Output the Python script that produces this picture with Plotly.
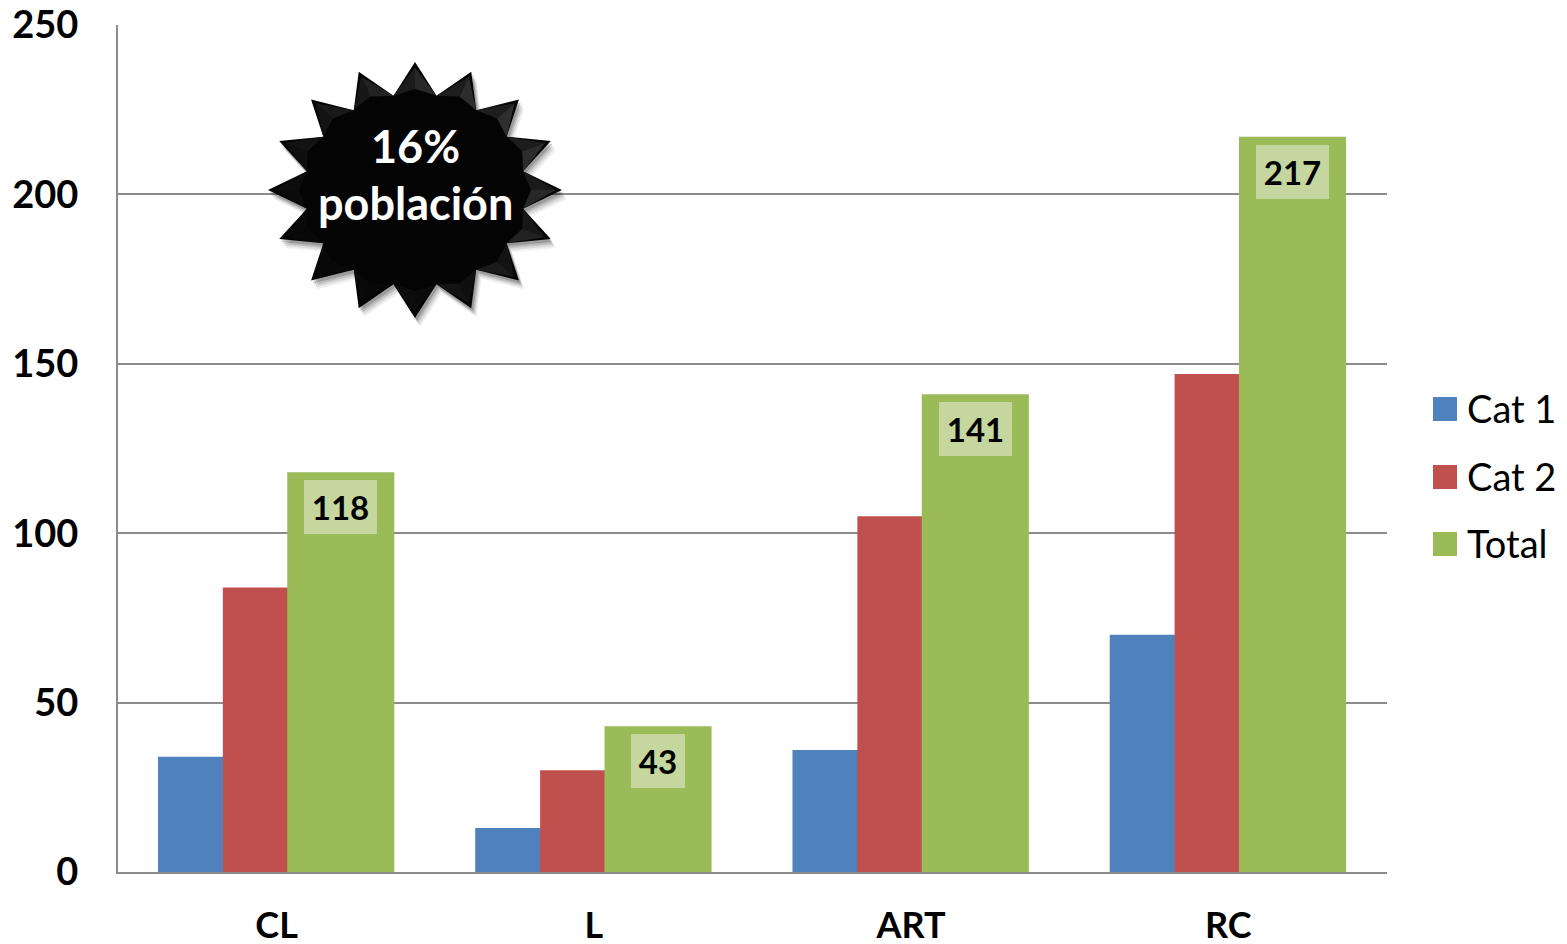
import math
import plotly.graph_objects as go

categories = ["CL", "L", "ART", "RC"]
cat1 = [34, 13, 36, 70]
cat2 = [84, 30, 105, 147]
total = [118, 43, 141, 217]
series_names = ["Cat 1", "Cat 2", "Total"]
y_ticks = [0, 50, 100, 150, 200, 250]
badge_lines = ["16%", "población"]

W, H = 1567, 944
L, R, T, B = 118, 1387, 25, 872
FONT = "Lato, Carlito, Calibri, sans-serif"
COLORS = ["#4F81BD", "#C0504D", "#9BBB59"]
GRID = "#8C8C8C"
BAR_W = 0.3375
OFFSETS = [-0.374, -0.1695, 0.0335]


def px(x):
    return (x - L) / (R - L)


def py(y):
    return (B - y) / (B - T)


def poly(points):
    return "M" + " L".join(f"{px(x):.5f},{py(y):.5f}" for x, y in points) + " Z"


fig = go.Figure()
for name, vals, col, off in zip(series_names, [cat1, cat2, total], COLORS, OFFSETS):
    fig.add_bar(x=categories, y=vals, name=name, marker=dict(color=col, line=dict(width=0)),
                width=BAR_W, offset=off, showlegend=False, hoverinfo="x+y+name")

shapes = []
annotations = []


def paper_shape(path, fill, opacity=1.0):
    shapes.append(dict(type="path", xref="paper", yref="paper", path=path, fillcolor=fill,
                       opacity=opacity, line=dict(width=0), layer="above"))


# starburst badge
CX, CY, RX, RY = 415, 190, 147, 128
INNER = 0.75
N = 16


def star_pt(k, r, dx=0, dy=0):
    a = math.radians(k * 360 / (2 * N)) - math.pi / 2
    return (CX + dx + RX * r * math.cos(a), CY + dy + RY * r * math.sin(a))


star = [star_pt(k, 1 if k % 2 == 0 else INNER) for k in range(2 * N)]
for d, op in [(9, 0.06), (7, 0.09), (5, 0.13), (3, 0.18)]:
    sh = [star_pt(k, 1 if k % 2 == 0 else INNER, d * 0.6, d) for k in range(2 * N)]
    paper_shape(poly(sh), "#000000", op)
paper_shape(poly(star), "#040404")
for k in range(0, 2 * N, 2):
    tip = star_pt(k, 1)
    a = math.radians(k * 360 / (2 * N)) - math.pi / 2
    light = 0.5 + 0.5 * math.cos(a + math.pi / 4)
    for side in (-1, 1):
        val = star_pt(k + side, INNER)
        ridge = star_pt(k, 0.79)
        shade = light if side == 1 else light * 0.6
        g = int(8 + 38 * shade)
        paper_shape(poly([(tip[0] * 0.8 + ridge[0] * 0.2, tip[1] * 0.8 + ridge[1] * 0.2), ridge, val]),
                    f"rgb({g},{g},{g})")

# data labels on the Total bars
for i, v in enumerate(total):
    annotations.append(dict(x=i + OFFSETS[2] + BAR_W / 2, y=v, xref="x", yref="y", text=f"<b>{v}</b>",
                            showarrow=False, yanchor="top", xanchor="center", yshift=-8,
                            width=69 if v >= 100 else 50, height=50, borderpad=2, borderwidth=0,
                            bgcolor="rgba(255,255,255,0.42)", valign="middle", align="center",
                            font=dict(family=FONT, size=33, color="#000000")))

# badge text
for txt, yy in zip(badge_lines, [146, 203]):
    annotations.append(dict(x=px(415), y=py(yy), xref="paper", yref="paper", text=f"<b>{txt}</b>",
                            showarrow=False, xanchor="center", yanchor="middle",
                            font=dict(family=FONT, size=45, color="#FFFFFF")))

# legend
for name, col, yy in zip(series_names, COLORS, [409, 477, 544]):
    shapes.append(dict(type="rect", xref="paper", yref="paper", x0=px(1433), x1=px(1457),
                       y0=py(yy + 12), y1=py(yy - 12), fillcolor=col, line=dict(width=0)))
    annotations.append(dict(x=px(1466), y=py(yy - 1), xref="paper", yref="paper", text=name,
                            showarrow=False, xanchor="left", yanchor="middle", borderpad=0,
                            font=dict(family=FONT, size=38, color="#000000")))

fig.update_layout(
    width=W, height=H, autosize=False,
    margin=dict(l=L, r=W - R, t=T, b=H - B, pad=0),
    paper_bgcolor="white", plot_bgcolor="white", barmode="overlay", showlegend=False,
    shapes=shapes, annotations=annotations,
    font=dict(family=FONT, color="#000000"),
    xaxis=dict(type="category", range=[-0.5, 3.5], showgrid=False, showline=True, linecolor=GRID,
               linewidth=2, ticks="", ticklabelstandoff=21, automargin=False,
               tickfont=dict(family=FONT, size=36, weight="bold", color="#000000")),
    yaxis=dict(range=[0, 250], tickvals=y_ticks, showgrid=True, gridcolor=GRID, gridwidth=1.5,
               showline=True, linecolor=GRID, linewidth=2, ticks="", ticklabelstandoff=30,
               automargin=False, zeroline=False,
               tickfont=dict(family=FONT, size=38, weight="bold", color="#000000")),
)
fig.write_html("out.html", config=dict(displayModeBar=False),
               post_script="document.body.style.margin='0';document.body.style.overflow='hidden';")
